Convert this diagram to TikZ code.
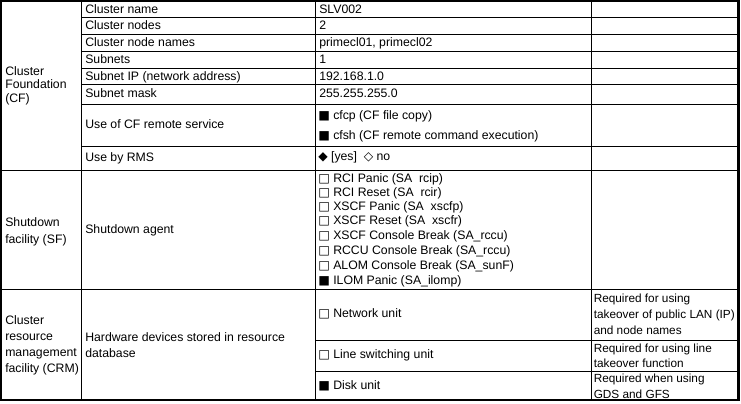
\documentclass[tikz,border=0pt]{standalone}
\usepackage{fontspec}
\setmainfont{Liberation Sans}
\newfontfamily\symf{DejaVu Sans}
\begin{document}
\begin{tikzpicture}[x=0.75pt,y=-0.75pt,
  thin/.style={line width=0.75pt},
  frame/.style={line width=1.6pt},
  cell/.style={anchor=west, inner sep=0pt, font=\fontsize{9.2pt}{11pt}\selectfont, text height=6.8pt, text depth=1.8pt},
  multi/.style={anchor=west, inner sep=0pt, align=left, font=\fontsize{9.2pt}{#1}\selectfont},
  multi/.default=12pt,
  note/.style={anchor=west, inner sep=0pt, align=left, font=\fontsize{8.85pt}{#1}\selectfont}]
\useasboundingbox (0,0) rectangle (741,403);
% grid
\draw[thin] (81,1) -- (81,400);
\draw[thin] (315,1) -- (315,400);
\draw[thin] (591,1) -- (591,400);
\draw[thin] (1,170) -- (738.5,170);
\draw[thin] (1,289) -- (738.5,289);
\foreach \yy in {18,35,52,68.5,84.5,104,146}{\draw[thin] (81,\yy) -- (738.5,\yy);}
\draw[thin] (315,340) -- (738.5,340);
\draw[thin] (315,371) -- (738.5,371);
\draw[frame] (1,1) rectangle (738.5,400);
% column 1
\node[multi=10pt] (cf) at (5,85.5) {Cluster\\Foundation\\(CF)};
\node[multi=12.75pt] (sf) at (5,231.5) {Shutdown\\facility (SF)};
\node[multi=12pt] (crm) at (5,345) {Cluster\\resource\\management\\facility (CRM)};
% column 2
\node[cell] (n1) at (85,10) {Cluster name};
\node[cell] (n2) at (85,26.5) {Cluster nodes};
\node[cell] (n3) at (85,43.5) {Cluster node names};
\node[cell] (n4) at (85,60.5) {Subnets};
\node[cell] (n5) at (85,77) {Subnet IP (network address)};
\node[cell] (n6) at (85,94.5) {Subnet mask};
\node[cell] (n7) at (85,125) {Use of CF remote service};
\node[cell] (n8) at (85,158) {Use by RMS};
\node[cell] (n9) at (85,230) {Shutdown agent};
\node[multi=12pt] (n10) at (85,345) {Hardware devices stored in resource\\database};
% column 3
\node[cell] (v1) at (319,10) {SLV002};
\node[cell] (v2) at (319,26.5) {2};
\node[cell] (v3) at (319,43.5) {primecl01, primecl02};
\node[cell] (v4) at (319,60.5) {1};
\node[cell] (v5) at (319,77) {192.168.1.0};
\node[cell] (v6) at (319,94.5) {255.255.255.0};
\node[cell] (v7) at (318,116.5) {{\symf ■} cfcp (CF file copy)};
\node[cell] (v8) at (318,136) {{\symf ■} cfsh (CF remote command execution)};
\node[cell] (v9) at (318,157.5) {{\symf ◆} [yes]\ \ {\symf ◇} no};
\node[cell] (s1) at (318,179) {{\symf □} RCI Panic (SA\ \ rcip)};
\node[cell] (s2) at (318,193) {{\symf □} RCI Reset (SA\ \ rcir)};
\node[cell] (s3) at (318,207) {{\symf □} XSCF Panic (SA\ \ xscfp)};
\node[cell] (s4) at (318,221) {{\symf □} XSCF Reset (SA\ \ xscfr)};
\node[cell] (s5) at (318,236) {{\symf □} XSCF Console Break (SA\_rccu)};
\node[cell] (s6) at (318,251) {{\symf □} RCCU Console Break (SA\_rccu)};
\node[cell] (s7) at (318,266) {{\symf □} ALOM Console Break (SA\_sunF)};
\node[cell] (s8) at (318,281) {{\symf ■} ILOM Panic (SA\_ilomp)};
\node[cell] (h1) at (318,314) {{\symf □} Network unit};
\node[cell] (h2) at (318,355.5) {{\symf □} Line switching unit};
\node[cell] (h3) at (318,386) {{\symf ■} Disk unit};
% column 4
\node[note=12pt] (r1) at (593.5,314) {Required for using\\takeover of public LAN (IP)\\and node names};
\node[note=11pt] (r2) at (593.5,356) {Required for using line\\takeover function};
\node[note=12pt] (r3) at (593.5,386.5) {Required when using\\GDS and GFS};
\end{tikzpicture}
\end{document}
